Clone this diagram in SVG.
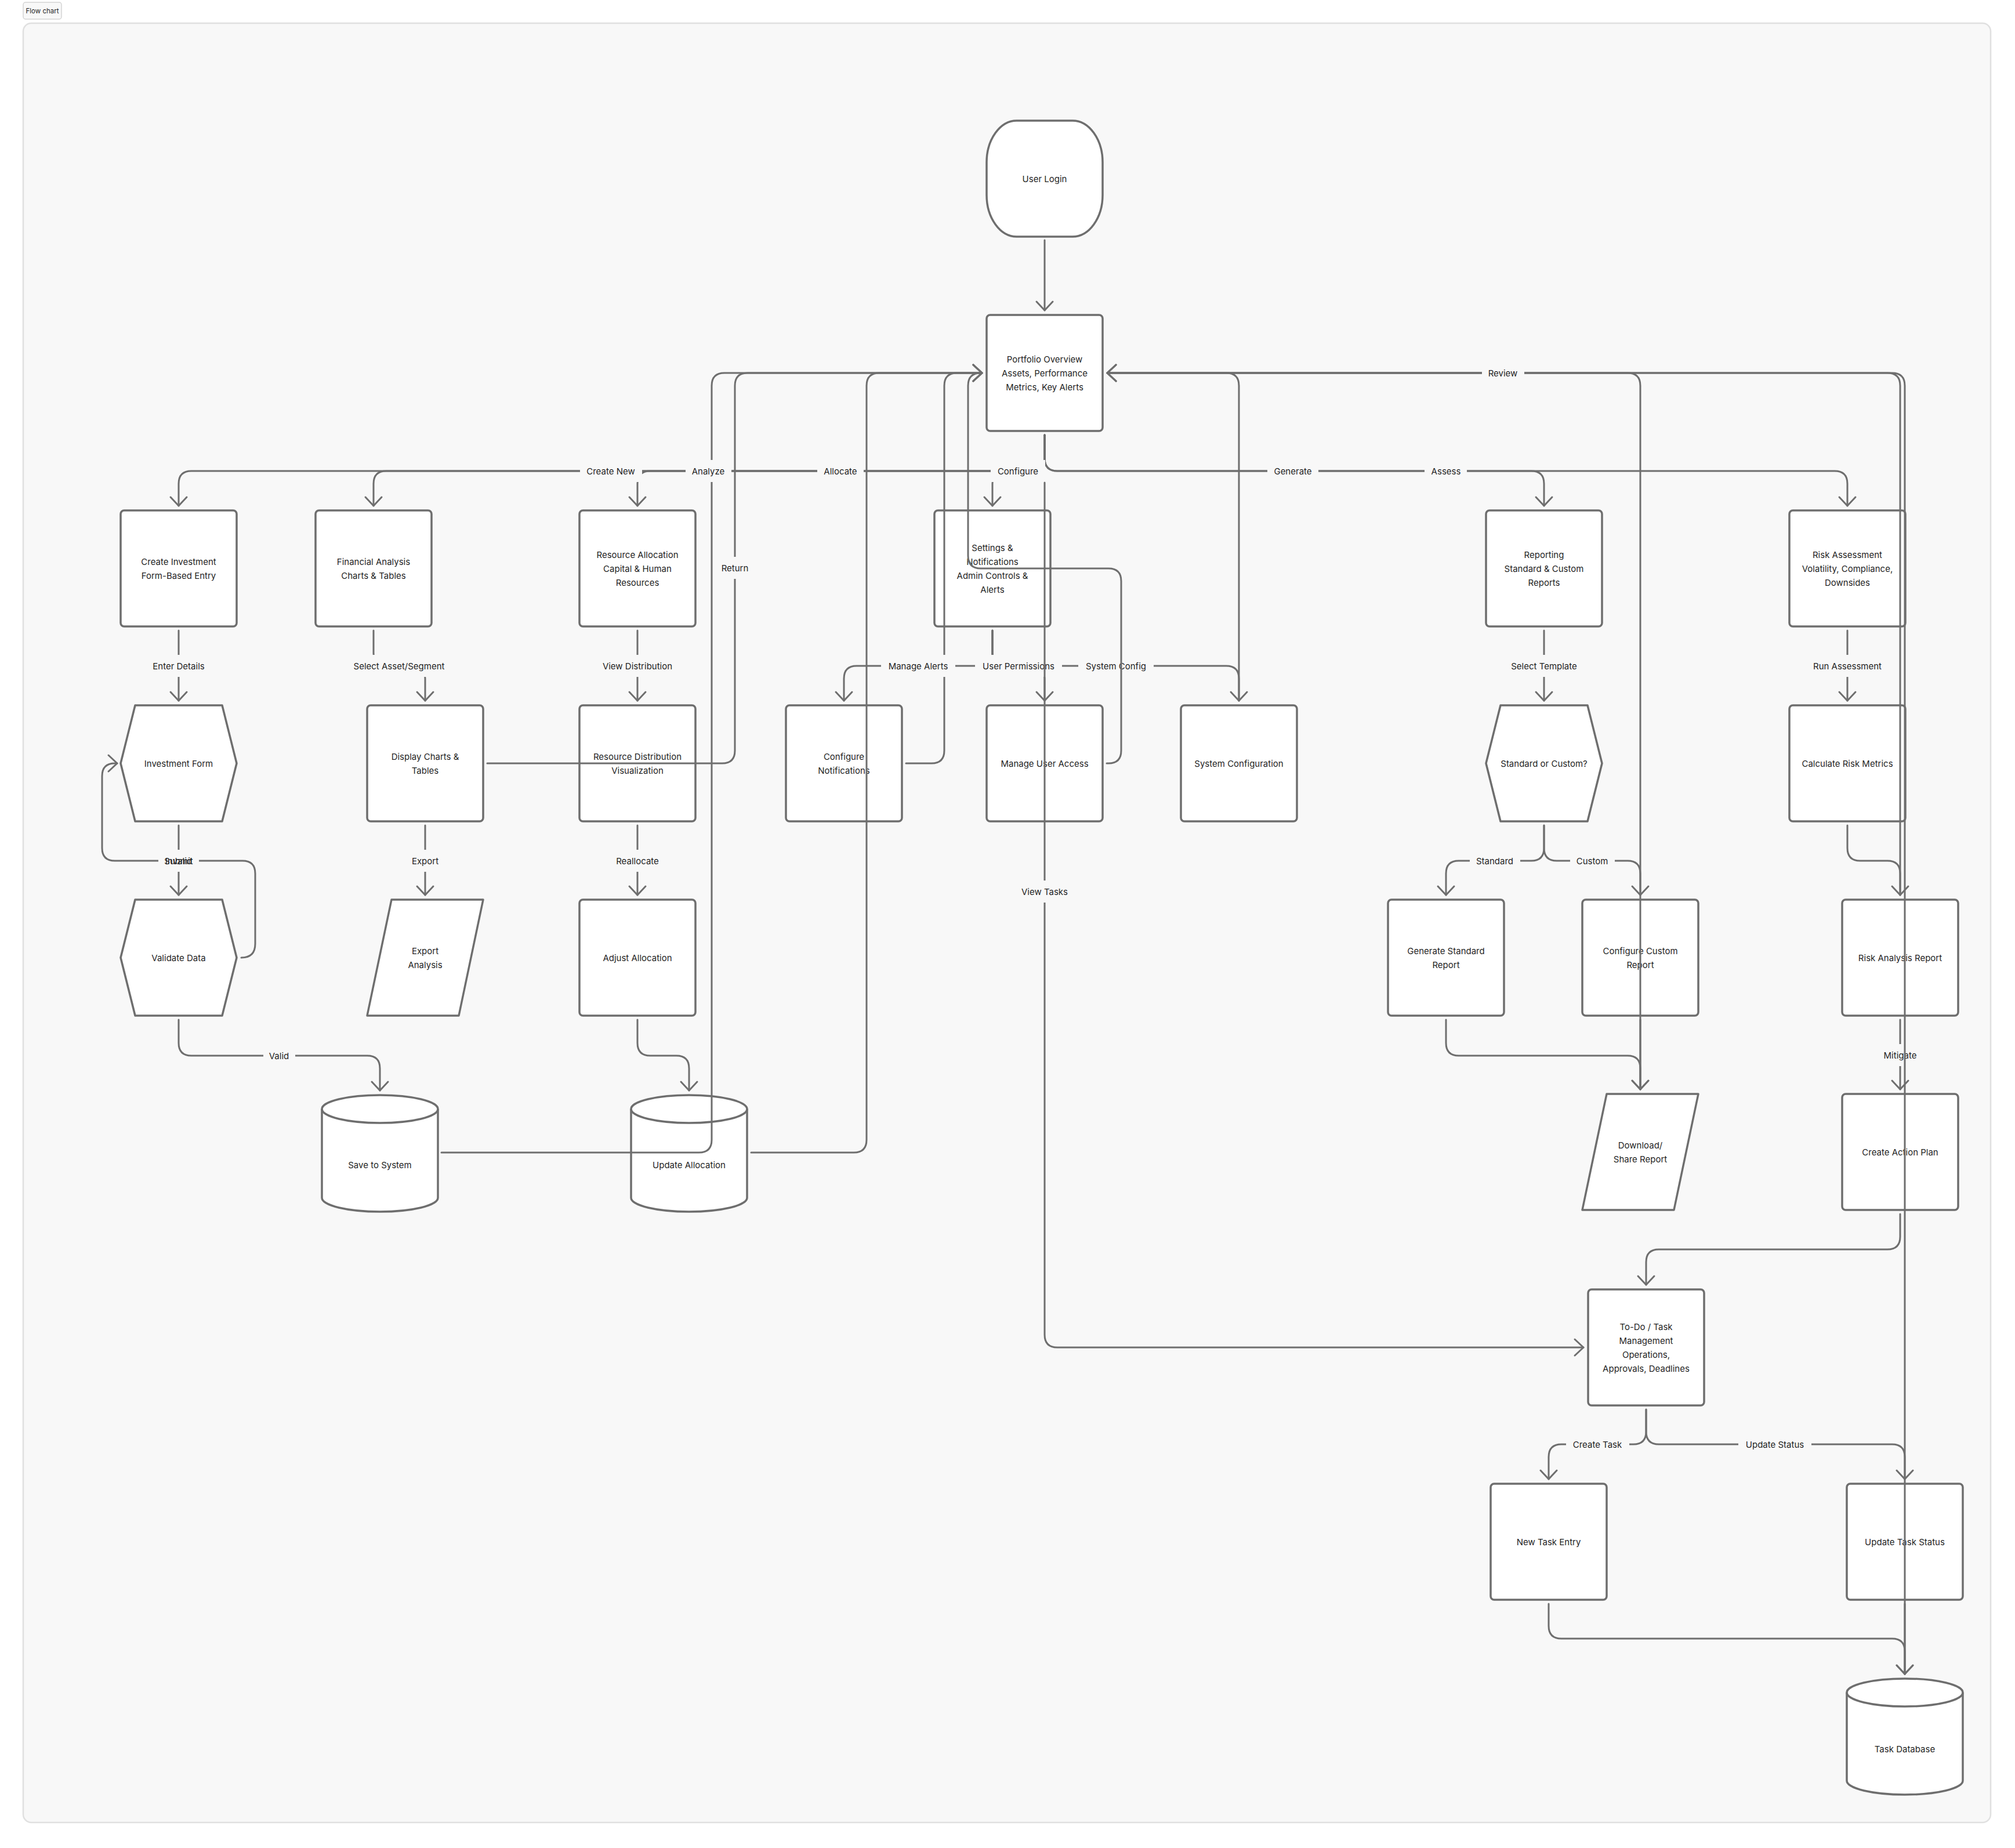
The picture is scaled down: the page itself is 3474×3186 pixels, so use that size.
<svg xmlns="http://www.w3.org/2000/svg" width="3474" height="3186" viewBox="0 0 3474 3186">
<defs>
<style>
.n{fill:#fff;stroke:#6e6e6e;stroke-width:3.5;stroke-linejoin:round}
.t{font-family:Inter,"Liberation Sans",Arial,sans-serif;font-size:15px;fill:#1f1f1f;text-anchor:middle;dominant-baseline:central}
.e{fill:none;stroke:#6e6e6e;stroke-width:3;stroke-linecap:round;stroke-linejoin:round}
.a{marker-end:url(#arr)}
.lb{fill:#f8f8f8}
</style>
<marker id="arr" viewBox="-20 -20 40 40" markerWidth="40" markerHeight="40" refX="0" refY="0" orient="auto" markerUnits="userSpaceOnUse"><path d="M-15,-14 L0,0 L-15,14" fill="none" stroke="#6e6e6e" stroke-width="3" stroke-linecap="round" stroke-linejoin="round"/></marker>
</defs>
<rect width="3474" height="3186" fill="#fff"/>
<g id="tag"><rect x="40" y="4" width="66" height="29" rx="4" fill="#f8f8f8" stroke="#d4d4d4" stroke-width="1.5"/><text x="73" y="19" class="t" style="font-size:11.5px">Flow chart</text></g>
<rect id="canvas" x="40" y="40" width="3392" height="3102" rx="14" fill="#f8f8f8" stroke="#e0e0e0" stroke-width="2.5"/>

<g id="nodes">
<g id="user_login"><rect class="n" x="1701" y="208" width="200" height="200" rx="52" ry="72"/><text class="t" x="1801" y="308">User Login</text></g>
<g id="portfolio"><rect class="n" x="1701" y="543" width="200" height="200" rx="6"/><text class="t" x="1801" y="619">Portfolio Overview</text><text class="t" x="1801" y="643">Assets, Performance</text><text class="t" x="1801" y="667">Metrics, Key Alerts</text></g>

<g id="create_investment"><rect class="n" x="208" y="880" width="200" height="200" rx="6"/><text class="t" x="308" y="968">Create Investment</text><text class="t" x="308" y="992">Form-Based Entry</text></g>
<g id="financial_analysis"><rect class="n" x="544" y="880" width="200" height="200" rx="6"/><text class="t" x="644" y="968">Financial Analysis</text><text class="t" x="644" y="992">Charts &amp; Tables</text></g>
<g id="resource_allocation"><rect class="n" x="999" y="880" width="200" height="200" rx="6"/><text class="t" x="1099" y="956">Resource Allocation</text><text class="t" x="1099" y="980">Capital &amp; Human</text><text class="t" x="1099" y="1004">Resources</text></g>
<g id="settings"><rect class="n" x="1611" y="880" width="200" height="200" rx="6"/><text class="t" x="1711" y="944">Settings &amp;</text><text class="t" x="1711" y="968">Notifications</text><text class="t" x="1711" y="992">Admin Controls &amp;</text><text class="t" x="1711" y="1016">Alerts</text></g>
<g id="reporting"><rect class="n" x="2562" y="880" width="200" height="200" rx="6"/><text class="t" x="2662" y="956">Reporting</text><text class="t" x="2662" y="980">Standard &amp; Custom</text><text class="t" x="2662" y="1004">Reports</text></g>
<g id="risk_assessment"><rect class="n" x="3085" y="880" width="200" height="200" rx="6"/><text class="t" x="3185" y="956">Risk Assessment</text><text class="t" x="3185" y="980">Volatility, Compliance,</text><text class="t" x="3185" y="1004">Downsides</text></g>

<g id="investment_form"><polygon class="n" points="233,1216 383,1216 408,1316 383,1416 233,1416 208,1316"/><text class="t" x="308" y="1316">Investment Form</text></g>
<g id="display_charts"><rect class="n" x="633" y="1216" width="200" height="200" rx="6"/><text class="t" x="733" y="1304">Display Charts &amp;</text><text class="t" x="733" y="1328">Tables</text></g>
<g id="resource_distribution"><rect class="n" x="999" y="1216" width="200" height="200" rx="6"/><text class="t" x="1099" y="1304">Resource Distribution</text><text class="t" x="1099" y="1328">Visualization</text></g>
<g id="configure_notifications"><rect class="n" x="1355" y="1216" width="200" height="200" rx="6"/><text class="t" x="1455" y="1304">Configure</text><text class="t" x="1455" y="1328">Notifications</text></g>
<g id="manage_user_access"><rect class="n" x="1701" y="1216" width="200" height="200" rx="6"/><text class="t" x="1801" y="1316">Manage User Access</text></g>
<g id="system_configuration"><rect class="n" x="2036" y="1216" width="200" height="200" rx="6"/><text class="t" x="2136" y="1316">System Configuration</text></g>
<g id="standard_or_custom"><polygon class="n" points="2587,1216 2737,1216 2762,1316 2737,1416 2587,1416 2562,1316"/><text class="t" x="2662" y="1316">Standard or Custom?</text></g>
<g id="calculate_risk"><rect class="n" x="3085" y="1216" width="200" height="200" rx="6"/><text class="t" x="3185" y="1316">Calculate Risk Metrics</text></g>

<g id="validate_data"><polygon class="n" points="233,1551 383,1551 408,1651 383,1751 233,1751 208,1651"/><text class="t" x="308" y="1651">Validate Data</text></g>
<g id="export_analysis"><polygon class="n" points="675,1551 833,1551 791,1751 633,1751"/><text class="t" x="733" y="1639">Export</text><text class="t" x="733" y="1663">Analysis</text></g>
<g id="adjust_allocation"><rect class="n" x="999" y="1551" width="200" height="200" rx="6"/><text class="t" x="1099" y="1651">Adjust Allocation</text></g>
<g id="generate_standard"><rect class="n" x="2393" y="1551" width="200" height="200" rx="6"/><text class="t" x="2493" y="1639">Generate Standard</text><text class="t" x="2493" y="1663">Report</text></g>
<g id="configure_custom"><rect class="n" x="2728" y="1551" width="200" height="200" rx="6"/><text class="t" x="2828" y="1639">Configure Custom</text><text class="t" x="2828" y="1663">Report</text></g>
<g id="risk_report"><rect class="n" x="3176" y="1551" width="200" height="200" rx="6"/><text class="t" x="3276" y="1651">Risk Analysis Report</text></g>

<g id="save_to_system"><path class="n" d="M555 1912 A100 24 0 0 1 755 1912 L755 2065 A100 24 0 0 1 555 2065 Z"/><path class="n" style="fill:none" d="M555 1912 A100 24 0 0 0 755 1912"/><text class="t" x="655" y="2008">Save to System</text></g>
<g id="update_allocation"><path class="n" d="M1088 1912 A100 24 0 0 1 1288 1912 L1288 2065 A100 24 0 0 1 1088 2065 Z"/><path class="n" style="fill:none" d="M1088 1912 A100 24 0 0 0 1288 1912"/><text class="t" x="1188" y="2008">Update Allocation</text></g>
<g id="download_share"><polygon class="n" points="2770,1886 2928,1886 2886,2086 2728,2086"/><text class="t" x="2828" y="1974">Download/</text><text class="t" x="2828" y="1998">Share Report</text></g>
<g id="action_plan"><rect class="n" x="3176" y="1886" width="200" height="200" rx="6"/><text class="t" x="3276" y="1986">Create Action Plan</text></g>

<g id="todo"><rect class="n" x="2738" y="2223" width="200" height="200" rx="6"/><text class="t" x="2838" y="2287">To-Do / Task</text><text class="t" x="2838" y="2311">Management</text><text class="t" x="2838" y="2335">Operations,</text><text class="t" x="2838" y="2359">Approvals, Deadlines</text></g>
<g id="new_task"><rect class="n" x="2570" y="2558" width="200" height="200" rx="6"/><text class="t" x="2670" y="2658">New Task Entry</text></g>
<g id="update_task"><rect class="n" x="3184" y="2558" width="200" height="200" rx="6"/><text class="t" x="3284" y="2658">Update Task Status</text></g>
<g id="task_database"><path class="n" d="M3184 2918 A100 24 0 0 1 3384 2918 L3384 3070 A100 24 0 0 1 3184 3070 Z"/><path class="n" style="fill:none" d="M3184 2918 A100 24 0 0 0 3384 2918"/><text class="t" x="3284" y="3015">Task Database</text></g>
</g>

<g id="connectors">
<path class="e a" d="M1801 414 L1801 535"/>
<path class="e a" d="M1801 750 L1801 790 Q1801 812 1779 812 L330 812 Q308 812 308 834 L308 872"/>
<path class="e a" d="M1801 750 L1801 790 Q1801 812 1779 812 L666 812 Q644 812 644 834 L644 872"/>
<path class="e a" d="M1801 750 L1801 790 Q1801 812 1779 812 L1121 812 Q1099 812 1099 834 L1099 872"/>
<path class="e a" d="M1801 750 L1801 790 Q1801 812 1779 812 L1733 812 Q1711 812 1711 834 L1711 872"/>
<path class="e a" d="M1801 750 L1801 790 Q1801 812 1823 812 L2640 812 Q2662 812 2662 834 L2662 872"/>
<path class="e a" d="M1801 750 L1801 790 Q1801 812 1823 812 L3163 812 Q3185 812 3185 834 L3185 872"/>

<path class="e a" d="M308 1087 L308 1208"/>
<path class="e a" d="M308 1423 L308 1543"/>
<path class="e a" d="M308 1758 L308 1798 Q308 1820 330 1820 L633 1820 Q655 1820 655 1842 L655 1880"/>
<path class="e a" d="M416 1651 Q440 1651 440 1627 L440 1506 Q440 1484 418 1484 L198 1484 Q176 1484 176 1462 L176 1338 Q176 1316 198 1316 L202 1316"/>
<path class="e a" d="M644 1087 L644 1126 Q644 1148 666 1148 L711 1148 Q733 1148 733 1170 L733 1208"/>
<path class="e a" d="M733 1423 L733 1543"/>
<path class="e a" d="M1099 1087 L1099 1208"/>
<path class="e a" d="M1099 1423 L1099 1543"/>
<path class="e a" d="M1099 1758 L1099 1798 Q1099 1820 1121 1820 L1166 1820 Q1188 1820 1188 1842 L1188 1880"/>
<path class="e a" d="M761 1987 L1205 1987 Q1227 1987 1227 1965 L1227 665 Q1227 643 1249 643 L1693 643"/>
<path class="e a" d="M840 1316 L1245 1316 Q1267 1316 1267 1294 L1267 665 Q1267 643 1289 643 L1693 643"/>
<path class="e a" d="M1295 1987 L1472 1987 Q1494 1987 1494 1965 L1494 665 Q1494 643 1516 643 L1693 643"/>
<path class="e a" d="M1562 1316 L1606 1316 Q1628 1316 1628 1294 L1628 665 Q1628 643 1650 643 L1693 643"/>

<path class="e a" d="M1711 1087 L1711 1126 Q1711 1148 1689 1148 L1477 1148 Q1455 1148 1455 1170 L1455 1208"/>
<path class="e a" d="M1711 1087 L1711 1126 Q1711 1148 1733 1148 L1779 1148 Q1801 1148 1801 1170 L1801 1208"/>
<path class="e a" d="M1711 1087 L1711 1126 Q1711 1148 1733 1148 L2114 1148 Q2136 1148 2136 1170 L2136 1208"/>

<path class="e a" d="M2136 1208 L2136 665 Q2136 643 2114 643 L1909 643"/>
<path class="e a" d="M2828 1878 L2828 665 Q2828 643 2806 643 L1909 643"/>
<path class="e a" d="M3276 1543 L3276 665 Q3276 643 3254 643 L1909 643"/>

<path class="e a" d="M2662 1087 L2662 1208"/>
<path class="e a" d="M2662 1423 L2662 1462 Q2662 1484 2640 1484 L2515 1484 Q2493 1484 2493 1506 L2493 1543"/>
<path class="e a" d="M2662 1423 L2662 1462 Q2662 1484 2684 1484 L2806 1484 Q2828 1484 2828 1506 L2828 1543"/>
<path class="e a" d="M2493 1758 L2493 1798 Q2493 1820 2515 1820 L2806 1820 Q2828 1820 2828 1842 L2828 1878"/>
<path class="e a" d="M2828 1758 L2828 1878"/>
<path class="e a" d="M3185 1087 L3185 1208"/>
<path class="e a" d="M3185 1423 L3185 1462 Q3185 1484 3207 1484 L3254 1484 Q3276 1484 3276 1506 L3276 1543"/>
<path class="e a" d="M3276 1758 L3276 1878"/>
<path class="e a" d="M3276 2093 L3276 2132 Q3276 2154 3254 2154 L2860 2154 Q2838 2154 2838 2176 L2838 2215"/>
<path class="e a" d="M2838 2430 L2838 2468 Q2838 2490 2816 2490 L2692 2490 Q2670 2490 2670 2512 L2670 2550"/>
<path class="e a" d="M2838 2430 L2838 2468 Q2838 2490 2860 2490 L3262 2490 Q3284 2490 3284 2512 L3284 2550"/>
<path class="e a" d="M2670 2765 L2670 2803 Q2670 2825 2692 2825 L3262 2825 Q3284 2825 3284 2847 L3284 2886"/>
<path class="e a" d="M3284 2765 L3284 2886"/>

<g id="labels">
<rect class="lb" x="1000" y="793" width="107" height="38"/><text class="t" x="1053" y="812">Create New</text>
<rect class="lb" x="1182" y="793" width="79" height="38"/><text class="t" x="1221" y="812">Analyze</text>
<rect class="lb" x="1409" y="793" width="80" height="38"/><text class="t" x="1449" y="812">Allocate</text>
<rect class="lb" x="1708" y="793" width="94" height="38"/><text class="t" x="1755" y="812">Configure</text>
<rect class="lb" x="2185" y="793" width="88" height="38"/><text class="t" x="2229" y="812">Generate</text>
<rect class="lb" x="2456" y="793" width="73" height="38"/><text class="t" x="2493" y="812">Assess</text>
<rect class="lb" x="1233" y="960" width="69" height="38"/><text class="t" x="1267" y="979">Return</text>
<rect class="lb" x="251" y="1129" width="115" height="38"/><text class="t" x="308" y="1148">Enter Details</text>
<rect class="lb" x="595" y="1129" width="186" height="38"/><text class="t" x="688" y="1148">Select Asset/Segment</text>
<rect class="lb" x="1026" y="1129" width="147" height="38"/><text class="t" x="1099" y="1148">View Distribution</text>
<rect class="lb" x="1519" y="1129" width="128" height="38"/><text class="t" x="1583" y="1148">Manage Alerts</text>
<rect class="lb" x="1681" y="1129" width="150" height="38"/><text class="t" x="1756" y="1148">User Permissions</text>
<rect class="lb" x="1859" y="1129" width="130" height="38"/><text class="t" x="1924" y="1148">System Config</text>
<rect class="lb" x="2593" y="1129" width="139" height="38"/><text class="t" x="2662" y="1148">Select Template</text>
<rect class="lb" x="3114" y="1129" width="143" height="38"/><text class="t" x="3185" y="1148">Run Assessment</text>
<rect class="lb" x="273" y="1465" width="70" height="38"/><text class="t" x="308" y="1484">Submit</text><text class="t" x="308" y="1484">Invalid</text>
<rect class="lb" x="699" y="1465" width="68" height="38"/><text class="t" x="733" y="1484">Export</text>
<rect class="lb" x="1052" y="1465" width="95" height="38"/><text class="t" x="1099" y="1484">Reallocate</text>
<rect class="lb" x="2534" y="1465" width="87" height="38"/><text class="t" x="2577" y="1484">Standard</text>
<rect class="lb" x="2707" y="1465" width="77" height="38"/><text class="t" x="2745" y="1484">Custom</text>
<rect class="lb" x="454" y="1801" width="55" height="38"/><text class="t" x="481" y="1820">Valid</text>
<rect class="lb" x="3236" y="1800" width="80" height="38"/><text class="t" x="3276" y="1819">Mitigate</text>
<rect class="lb" x="2700" y="2471" width="109" height="38"/><text class="t" x="2754" y="2490">Create Task</text>
<rect class="lb" x="2997" y="2471" width="126" height="38"/><text class="t" x="3060" y="2490">Update Status</text>
</g>

<path class="e a" d="M1801 832 L1801 2301 Q1801 2323 1823 2323 L2730 2323"/>
<path class="e a" d="M1908 1316 L1911 1316 Q1933 1316 1933 1294 L1933 1002 Q1933 980 1911 980 L1691 980 Q1669 980 1669 958 L1669 665 Q1669 643 1691 643 L1693 643"/>
<path class="e a" d="M3284 2886 L3284 665 Q3284 643 3262 643 L1909 643"/>

<g id="labels_top">
<rect class="lb" x="1750" y="1518" width="103" height="38"/><text class="t" x="1801" y="1537">View Tasks</text>
<rect class="lb" x="2555" y="624" width="73" height="38"/><text class="t" x="2591" y="643">Review</text>
</g>
</g>
</svg>
